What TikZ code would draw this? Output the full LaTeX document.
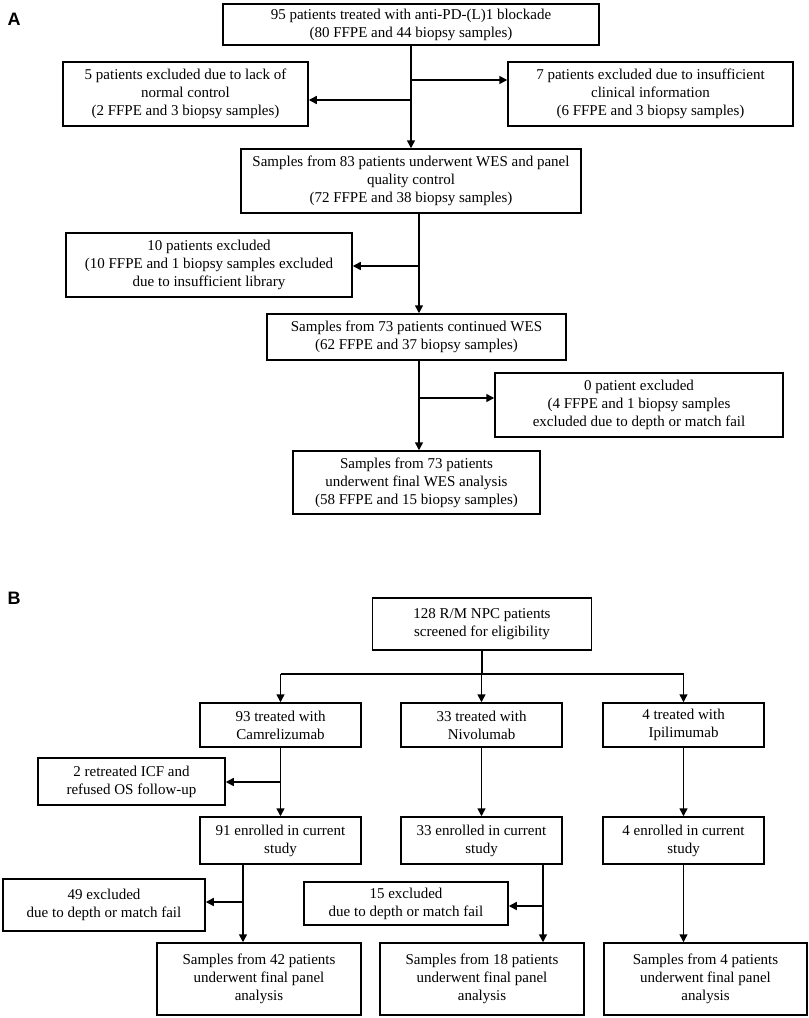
\documentclass[tikz,border=0pt]{standalone}
\usepackage{fontspec}
\setmainfont{Liberation Serif}
\newfontfamily\labfont{Liberation Sans}
\usetikzlibrary{arrows.meta}
\begin{document}
\begin{tikzpicture}[x=1pt,y=-1pt,
  box/.style={draw, line width=1.5pt, align=center, inner sep=0pt,
    font=\fontsize{15pt}{18pt}\selectfont},
  line/.style={line width=1.5pt},
  arr/.style={line width=1.5pt, -{Triangle[length=8pt,width=8pt]}},
  panel/.style={font=\labfont\bfseries\fontsize{18pt}{20pt}\selectfont, inner sep=0pt}]
\useasboundingbox (0,0) rectangle (809,1018);
% ---------------- Panel A ----------------
\node[panel] (la) at (14,19) {A};
\node[box, minimum width=376pt, minimum height=41pt] (a1) at (411,24.5)
  {95 patients treated with anti-PD-(L)1 blockade\\(80 FFPE and 44 biopsy samples)};
\node[box, minimum width=245pt, minimum height=64pt] (a2) at (185.5,94)
  {5 patients excluded due to lack of\\normal control\\(2 FFPE and 3 biopsy samples)};
\node[box, minimum width=285pt, minimum height=64pt] (a3) at (650.5,94)
  {7 patients excluded due to insufficient\\clinical information\\(6 FFPE and 3 biopsy samples)};
\node[box, minimum width=340pt, minimum height=64pt] (a4) at (411,181)
  {Samples from 83 patients underwent WES and panel\\quality control\\(72 FFPE and 38 biopsy samples)};
\node[box, minimum width=286pt, minimum height=64pt] (a5) at (209,265)
  {10 patients excluded\\(10 FFPE and 1 biopsy samples excluded\\due to insufficient library};
\node[box, minimum width=299pt, minimum height=46pt] (a6) at (416.5,337)
  {Samples from 73 patients continued WES\\(62 FFPE and 37 biopsy samples)};
\node[box, minimum width=288pt, minimum height=64pt] (a8) at (639,405)
  {0 patient excluded\\(4 FFPE and 1 biopsy samples\\excluded due to depth or match fail};
\node[box, minimum width=247pt, minimum height=63pt] (a7) at (416.5,482.5)
  {Samples from 73 patients\\underwent final WES analysis\\(58 FFPE and 15 biopsy samples)};
\coordinate (ja1) at (411,80);
\coordinate (ja2) at (411,100);
\coordinate (ja3) at (419,266);
\coordinate (ja4) at (419,398);
\draw[arr] (a1.south) -- (a4.north);
\draw[arr] (ja1) -- (ja1 -| a3.west);
\draw[arr] (ja2) -- (ja2 -| a2.east);
\draw[arr] (a4.south -| ja3) -- (a6.north -| ja3);
\draw[arr] (ja3) -- (ja3 -| a5.east);
\draw[arr] (a6.south -| ja4) -- (a7.north -| ja4);
\draw[arr] (ja4) -- (ja4 -| a8.west);
% ---------------- Panel B ----------------
\node[panel] (lb) at (14,598) {B};
\node[box, minimum width=219pt, minimum height=52pt] (b1) at (482,624)
  {128 R/M NPC patients\\screened for eligibility};
\node[box, minimum width=161pt, minimum height=44pt] (b2) at (280.5,725)
  {93 treated with\\Camrelizumab};
\node[box, minimum width=161pt, minimum height=44pt] (b3) at (481.5,725)
  {33 treated with\\Nivolumab};
\node[box, minimum width=161pt, minimum height=44pt] (b4) at (683.5,725)
  {4 treated with\\Ipilimumab};
\node[box, minimum width=187pt, minimum height=47pt] (b5) at (131.5,781.5)
  {2 retreated ICF and\\refused OS follow-up};
\node[box, minimum width=161pt, minimum height=47pt] (b6) at (280.5,840.5)
  {91 enrolled in current\\study};
\node[box, minimum width=161pt, minimum height=47pt] (b7) at (481.5,840.5)
  {33 enrolled in current\\study};
\node[box, minimum width=161pt, minimum height=47pt] (b8) at (683.5,840.5)
  {4 enrolled in current\\study};
\node[box, minimum width=202pt, minimum height=52pt] (b9) at (104,905)
  {49 excluded\\due to depth or match fail};
\node[box, minimum width=204pt, minimum height=43pt] (b10) at (406,903.5)
  {15 excluded\\due to depth or match fail};
\node[box, minimum width=204pt, minimum height=72pt] (b11) at (259,979)
  {Samples from 42 patients\\underwent final panel\\analysis};
\node[box, minimum width=204pt, minimum height=72pt] (b12) at (482,979)
  {Samples from 18 patients\\underwent final panel\\analysis};
\node[box, minimum width=203pt, minimum height=72pt] (b13) at (705.5,979)
  {Samples from 4 patients\\underwent final panel\\analysis};
\coordinate (hb) at (482,674);
\coordinate (jb2) at (280.5,782);
\coordinate (jb6) at (243,902);
\coordinate (jb7) at (543,906);
\coordinate (jb8) at (683.5,900);
\draw[line] (b1.south) -- (hb);
\draw[line] (hb -| b2.north) -- (hb -| b4.north);
\draw[arr] (hb -| b2.north) -- (b2.north);
\draw[arr] (hb -| b3.north) -- (b3.north);
\draw[arr] (hb -| b4.north) -- (b4.north);
\draw[arr] (b2.south) -- (b6.north);
\draw[arr] (jb2) -- (jb2 -| b5.east);
\draw[arr] (b3.south) -- (b7.north);
\draw[arr] (b4.south) -- (b8.north);
\draw[arr] (b6.south -| jb6) -- (b11.north -| jb6);
\draw[arr] (jb6) -- (jb6 -| b9.east);
\draw[arr] (b7.south -| jb7) -- (b12.north -| jb7);
\draw[arr] (jb7) -- (jb7 -| b10.east);
\draw[arr] (b8.south -| jb8) -- (b13.north -| jb8);
\end{tikzpicture}
\end{document}
